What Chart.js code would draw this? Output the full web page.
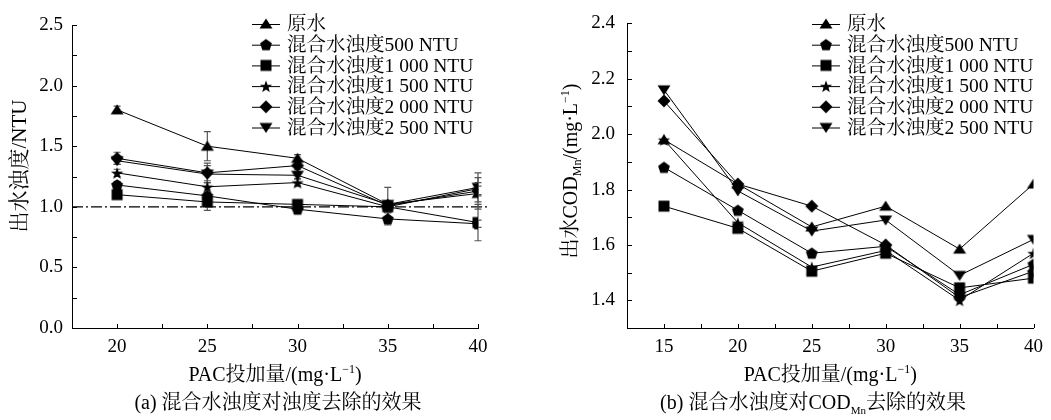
<!DOCTYPE html>
<html>
<head>
<meta charset="utf-8">
<script src="https://cdn.jsdelivr.net/npm/chart.js@4.4.1/dist/chart.umd.min.js"></script>
<style>
  body { margin: 0; background: #fff; }
  #page { position: relative; width: 1051px; height: 420px; overflow: hidden; }
  .box { position: absolute; top: 0; height: 420px; }
  #boxA { left: 0; width: 525px; }
  #boxB { left: 525px; width: 526px; }
  .cap {
    position: absolute; top: 386px; transform: translateX(-50%); white-space: nowrap;
    font: 20px "Liberation Serif", "Noto Serif CJK SC", "Noto Sans CJK SC", serif; color: #000;
  }
  .cap sub { font-size: 11px; }
</style>
</head>
<body>
<div id="page">
  <div class="box" id="boxA"><canvas id="chartA"></canvas></div>
  <div class="box" id="boxB"><canvas id="chartB"></canvas></div>
  <div class="cap" style="left:278px">(a) 混合水浊度对浊度去除的效果</div>
  <div class="cap" style="left:813px">(b) 混合水浊度对COD<sub>Mn</sub>去除的效果</div>
</div>
<script>
// data
const seriesNames = ['原水', '混合水浊度500 NTU', '混合水浊度1 000 NTU', '混合水浊度1 500 NTU', '混合水浊度2 000 NTU', '混合水浊度2 500 NTU'];

// (a) turbidity
const doseA = [20, 25, 30, 35, 40];
const turbRaw  = [1.80, 1.50, 1.40, 1.02, 1.11];
const turb500  = [1.18, 1.09, 0.98, 0.90, 0.86];
const turb1000 = [1.10, 1.04, 1.02, 1.00, 0.87];
const turb1500 = [1.28, 1.165, 1.20, 1.00, 1.15];
const turb2000 = [1.40, 1.28, 1.34, 1.01, 1.13];
const turb2500 = [1.38, 1.27, 1.26, 1.02, 1.16];
const errRaw  = [0.03, 0.12, 0.03, 0.03, 0.13];
const err500  = [0.03, 0.03, 0.02, 0.05, 0.03];
const err1000 = [0.02, 0.07, 0.02, 0.03, 0.15];
const err1500 = [0.03, 0.05, 0.03, 0.03, 0.05];
const err2000 = [0.05, 0.08, 0.03, 0.03, 0.04];
const err2500 = [0.03, 0.07, 0.03, 0.14, 0.12];
const turbLimit = 1.0;

// (b) COD_Mn
const doseB = [15, 20, 25, 30, 35, 40];
const codRaw  = [1.98, 1.82, 1.665, 1.74, 1.585, 1.82];
const cod500  = [1.88, 1.725, 1.57, 1.595, 1.42, 1.53];
const cod1000 = [1.74, 1.66, 1.505, 1.57, 1.445, 1.48];
const cod1500 = [1.98, 1.68, 1.52, 1.58, 1.40, 1.57];
const cod2000 = [2.12, 1.82, 1.74, 1.60, 1.41, 1.505];
const cod2500 = [2.16, 1.795, 1.65, 1.69, 1.49, 1.62];

const FONT = '"Liberation Serif", "Noto Serif CJK SC", "Noto Sans CJK SC", serif';

// filled black marker drawn on a small canvas, used as pointStyle
function marker(shape) {
  const s = 16, m = s / 2;
  const c = document.createElement('canvas');
  c.width = c.height = s;
  const g = c.getContext('2d');
  g.fillStyle = '#000';
  g.beginPath();
  if (shape === 'up') {
    g.moveTo(m, m - 5.5); g.lineTo(m + 6.5, m + 4.5); g.lineTo(m - 6.5, m + 4.5);
  } else if (shape === 'down') {
    g.moveTo(m, m + 5.5); g.lineTo(m + 6.5, m - 4.5); g.lineTo(m - 6.5, m - 4.5);
  } else if (shape === 'square') {
    g.rect(m - 5.5, m - 5.5, 11, 11);
  } else if (shape === 'diamond') {
    g.moveTo(m, m - 6.5); g.lineTo(m + 6.5, m); g.lineTo(m, m + 6.5); g.lineTo(m - 6.5, m);
  } else if (shape === 'pentagon') {
    for (let k = 0; k < 5; k++) {
      const a = -Math.PI / 2 + k * 2 * Math.PI / 5;
      g.lineTo(m + 6.2 * Math.cos(a), m + 0.5 + 6.2 * Math.sin(a));
    }
  } else if (shape === 'star') {
    for (let k = 0; k < 10; k++) {
      const a = -Math.PI / 2 + k * Math.PI / 5;
      const r = k % 2 ? 2.6 : 6.5;
      g.lineTo(m + r * Math.cos(a), m + 0.8 + r * Math.sin(a));
    }
  }
  g.closePath();
  g.fill();
  return c;
}
const markers = ['up', 'pentagon', 'square', 'star', 'diamond', 'down'].map(marker);

function makeSets(doses, values, errs) {
  return values.map((vals, i) => ({
    label: seriesNames[i],
    data: vals.map((v, j) => ({ x: doses[j], y: v })),
    errors: errs ? errs[i] : null,
    borderColor: '#000',
    borderWidth: 1,
    pointStyle: markers[i],
    pointRadius: 6,
    fill: false,
    tension: 0
  }));
}

// draw text runs (normal / sup / sub) left to right
function drawRuns(ctx, runs, size, x, y) {
  let w = 0;
  runs.forEach(r => {
    ctx.font = (r[1] ? Math.round(size * 0.6) : size) + 'px ' + FONT;
    w += ctx.measureText(r[0]).width;
  });
  let cx = x - w / 2;
  ctx.textBaseline = 'middle';
  ctx.textAlign = 'left';
  runs.forEach(r => {
    const small = !!r[1];
    ctx.font = (small ? Math.round(size * 0.6) : size) + 'px ' + FONT;
    const dy = r[1] === 'sup' ? -size * 0.32 : r[1] === 'sub' ? size * 0.3 : 0;
    ctx.fillText(r[0], cx, y + dy);
    cx += ctx.measureText(r[0]).width;
  });
}

const axisText = {
  id: 'axisText',
  afterDraw(chart, args, o) {
    const ctx = chart.ctx, a = chart.chartArea;
    ctx.save();
    ctx.fillStyle = '#000';
    drawRuns(ctx, o.xTitle, 20, (a.left + a.right) / 2, o.xY);
    ctx.translate(o.yX, o.yY);
    ctx.rotate(-Math.PI / 2);
    drawRuns(ctx, o.yTitle, o.ySize, 0, 0);
    ctx.restore();
  }
};

// short tick marks pointing into the plot
const innerTicks = {
  id: 'innerTicks',
  afterDraw(chart) {
    const ctx = chart.ctx, a = chart.chartArea;
    const sx = chart.scales.x, sy = chart.scales.y;
    ctx.save();
    ctx.strokeStyle = '#000';
    ctx.lineWidth = 1;
    ctx.beginPath();
    sx.ticks.forEach(t => {
      const px = Math.round(sx.getPixelForValue(t.value)) + 0.5;
      ctx.moveTo(px, a.bottom); ctx.lineTo(px, a.bottom - 4);
    });
    sy.ticks.forEach(t => {
      const py = Math.round(sy.getPixelForValue(t.value)) + 0.5;
      ctx.moveTo(a.left, py); ctx.lineTo(a.left + 5, py);
    });
    ctx.stroke();
    ctx.restore();
  }
};

const legendBox = {
  id: 'legendBox',
  afterDraw(chart, args, o) {
    const ctx = chart.ctx;
    ctx.save();
    chart.data.datasets.forEach((ds, i) => {
      const y = o.y + i * o.gap;
      ctx.strokeStyle = '#000';
      ctx.lineWidth = 1;
      ctx.beginPath();
      ctx.moveTo(o.x, y + 0.5); ctx.lineTo(o.x + 28, y + 0.5);
      ctx.stroke();
      const img = ds.pointStyle;
      ctx.drawImage(img, o.x + 14 - img.width / 2, y - img.height / 2);
      ctx.fillStyle = '#000';
      ctx.font = '19.5px ' + FONT;
      ctx.textAlign = 'left';
      ctx.textBaseline = 'middle';
      ctx.fillText(ds.label, o.x + 35, y + 1);
    });
    ctx.restore();
  }
};

const errorBars = {
  id: 'errorBars',
  beforeDatasetsDraw(chart) {
    const ctx = chart.ctx, sx = chart.scales.x, sy = chart.scales.y;
    ctx.save();
    ctx.strokeStyle = '#555';
    ctx.lineWidth = 1.2;
    chart.data.datasets.forEach(ds => {
      if (!ds.errors) return;
      ds.data.forEach((p, j) => {
        const px = sx.getPixelForValue(p.x);
        const top = sy.getPixelForValue(p.y + ds.errors[j]);
        const bot = sy.getPixelForValue(p.y - ds.errors[j]);
        ctx.beginPath();
        ctx.moveTo(px, top); ctx.lineTo(px, bot);
        ctx.moveTo(px - 3.5, top); ctx.lineTo(px + 3.5, top);
        ctx.moveTo(px - 3.5, bot); ctx.lineTo(px + 3.5, bot);
        ctx.stroke();
      });
    });
    ctx.restore();
  }
};

const refLine = {
  id: 'refLine',
  beforeDatasetsDraw(chart, args, o) {
    const ctx = chart.ctx, a = chart.chartArea;
    const py = chart.scales.y.getPixelForValue(o.value);
    ctx.save();
    ctx.strokeStyle = '#000';
    ctx.lineWidth = 1.2;
    ctx.setLineDash([11, 3, 2, 3]);
    ctx.beginPath();
    ctx.moveTo(a.left, py); ctx.lineTo(a.right + 12, py);
    ctx.stroke();
    ctx.restore();
  }
};

function scaleX(min, max) {
  return {
    type: 'linear', min: min, max: max,
    grid: { drawOnChartArea: false, drawTicks: false },
    border: { color: '#000', width: 1 },
    ticks: {
      stepSize: 2.5, autoSkip: false, maxRotation: 0, padding: 8, color: '#000',
      font: { family: FONT, size: 19 },
      callback: v => (v % 5 === 0 ? String(v) : '')
    },
    afterFit: s => { s.height = 92; }
  };
}

function scaleY(min, max, step, every, pad, width) {
  return {
    min: min, max: max,
    grid: { drawOnChartArea: false, drawTicks: false },
    border: { color: '#000', width: 1 },
    ticks: {
      stepSize: step, autoSkip: false, padding: pad, color: '#000',
      font: { family: FONT, size: 19 },
      callback: v => (Math.abs(v / every - Math.round(v / every)) < 1e-6 ? v.toFixed(1) : '')
    },
    afterFit: s => { s.width = width; }
  };
}

const xTitle = [['PAC投加量/(mg·L'], ['−1', 'sup'], [')']];

new Chart(document.getElementById('chartA'), {
  type: 'line',
  data: {
    datasets: makeSets(doseA,
      [turbRaw, turb500, turb1000, turb1500, turb2000, turb2500],
      [errRaw, err500, err1000, err1500, err2000, err2500])
  },
  options: {
    responsive: true,
    maintainAspectRatio: false,
    animation: false,
    events: [],
    layout: { padding: { top: 25, right: 47, left: 0, bottom: 0 } },
    scales: {
      x: scaleX(17.5, 40),
      y: scaleY(0, 2.5, 0.25, 0.5, 9, 72)
    },
    plugins: {
      legend: { display: false },
      tooltip: { enabled: false },
      legendBox: { x: 252, y: 24, gap: 20.7 },
      refLine: { value: turbLimit },
      axisText: { xTitle: xTitle, xY: 376, yTitle: [['出水浊度/NTU']], ySize: 21, yX: 20, yY: 166 }
    }
  },
  plugins: [refLine, errorBars, innerTicks, legendBox, axisText]
});

new Chart(document.getElementById('chartB'), {
  type: 'line',
  data: {
    datasets: makeSets(doseB, [codRaw, cod500, cod1000, cod1500, cod2000, cod2500])
  },
  options: {
    responsive: true,
    maintainAspectRatio: false,
    animation: false,
    events: [],
    layout: { padding: { top: 22, right: 11, left: 0, bottom: 0 } },
    scales: {
      x: scaleX(12.5, 40),
      y: scaleY(1.3, 2.4, 0.1, 0.2, 12, 102)
    },
    plugins: {
      legend: { display: false },
      tooltip: { enabled: false },
      legendBox: { x: 287, y: 24, gap: 20.7 },
      axisText: {
        xTitle: xTitle, xY: 376,
        yTitle: [['出水COD'], ['Mn', 'sub'], ['/(mg·L'], ['−1', 'sup'], [')']],
        ySize: 20, yX: 47, yY: 171
      }
    }
  },
  plugins: [innerTicks, legendBox, axisText]
});
</script>
</body>
</html>
